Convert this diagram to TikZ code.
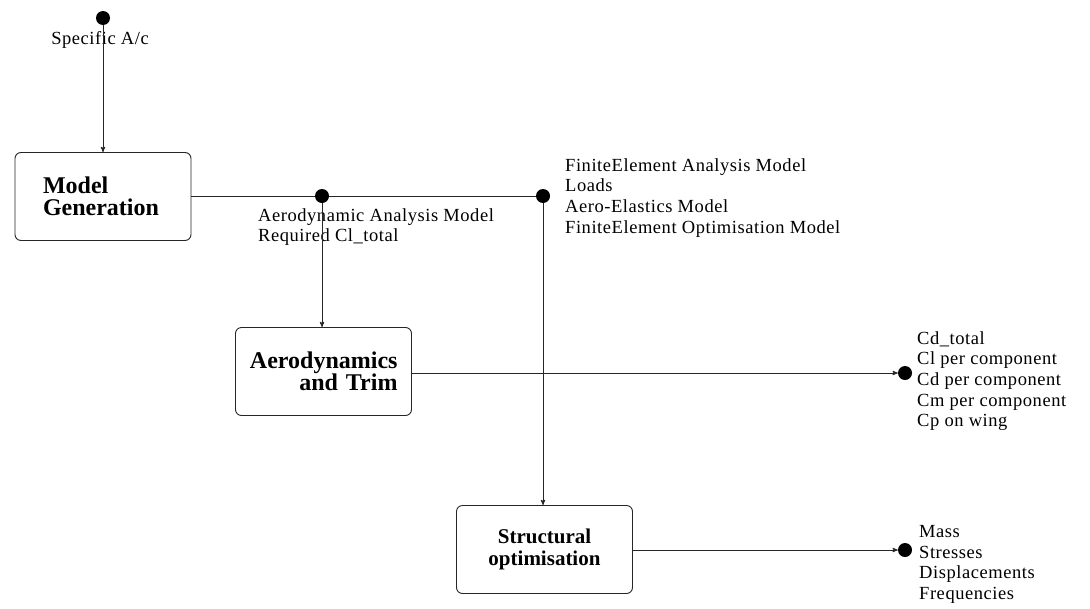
\documentclass[tikz,border=0pt]{standalone}
\usepackage{fontspec}
\setmainfont{Liberation Serif}
\usepackage{tikz}
\usetikzlibrary{shapes,arrows,positioning}
\tikzstyle{block} = [draw=black!85, line width=0.9pt, rounded corners=6pt,
    minimum width=176pt, minimum height=88pt, inner sep=0pt,
    font=\fontsize{24}{22}\selectfont\bfseries]
\tikzstyle{port} = [circle, fill=black, inner sep=0pt, minimum size=14pt]
\tikzstyle{info} = [inner sep=0pt, align=left,
    font=\fontsize{18.5}{20.7}\selectfont\addfontfeature{LetterSpace=3}]
\tikzstyle{flow} = [draw=black!85, line width=0.9pt]

\begin{document}
\begin{tikzpicture}[x=1pt, y=-1pt, >=stealth']
  \useasboundingbox (0,0) rectangle (1090,608);
  % boxes
  \node [block, text width=120pt, align=left] (mg) at (103,196.5) {Model\\Generation};
  \node [block, text width=148pt, align=right] (at) at (323.5,371.5) {Aerodynamics\\and Trim};
  \node [block, text width=150pt, align=center,
         font=\fontsize{21}{22}\selectfont\bfseries] (so) at (544.5,549.5) {Structural\\optimisation};
  % ports
  \node [port] (pin) at (103,18) {};
  \node [port] (paero) at (322,196) {};
  \node [port] (pfe) at (543,196) {};
  \node [port] (pcoef) at (905,373) {};
  \node [port] (pstruct) at (905,550) {};
  % texts
  \node [info, anchor=north] (tin) at (100,31) {Specific A/c};
  \node [info, anchor=north west] (taero) at (258,208) {Aerodynamic Analysis Model\\Required Cl\_total};
  \node [info, anchor=north west] (tfe) at (565,158) {FiniteElement Analysis Model\\Loads\\Aero-Elastics Model\\FiniteElement Optimisation Model};
  \node [info, anchor=north west] (tcoef) at (917,331) {Cd\_total\\Cl per component\\Cd per component\\Cm per component\\Cp on wing};
  \node [info, anchor=north west] (tstruct) at (919,525) {Mass\\Stresses\\Displacements\\Frequencies};
  % connectors
  \draw [flow,->] (pin) -- (pin |- mg.north);
  \draw [flow] (mg.east |- paero) -- (paero) -- (pfe);
  \draw [flow,->] (paero) -- (paero |- at.north);
  \draw [flow,->] (pfe) -- (pfe |- so.north);
  \draw [flow,->] (at.east |- pcoef) -- (pcoef);
  \draw [flow,->] (so.east |- pstruct) -- (pstruct);
\end{tikzpicture}
\end{document}
